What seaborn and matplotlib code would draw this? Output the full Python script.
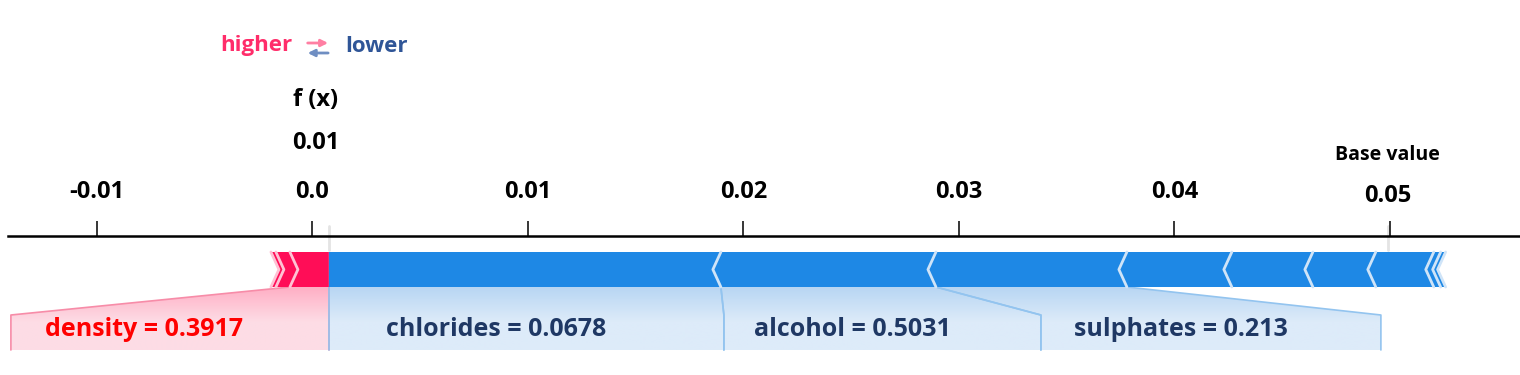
import numpy as np
import matplotlib
matplotlib.use('Agg')
import matplotlib.pyplot as plt
from matplotlib.patches import Polygon
from matplotlib.colors import to_rgba
import seaborn as sns

# force plot values
base_value = 0.0499
fx_text = '0.01'
base_text = '0.05'

red_features = ['density', '', '']
red_values = ['0.3917', '', '']
red_shap = [0.00181, 0.00065, 0.00023]

blue_features = ['chlorides', 'alcohol', 'sulphates', '', '', '', '', '', '']
blue_values = ['0.0678', '0.5031', '0.213', '', '', '', '', '', '']
blue_shap = [0.01819, 0.00998, 0.00886, 0.00487, 0.00376, 0.00292, 0.00269, 0.00032, 0.00023]

tick_values = [-0.01, 0.0, 0.01, 0.02, 0.03, 0.04, 0.05]
tick_labels = ['-0.01', '0.0', '0.01', '0.02', '0.03', '0.04', '']

# layout (y in pixel rows, x in data units)
W, H = 1520, 375
X_MIN, X_MAX = -0.014121, 0.056042
PX = (X_MAX - X_MIN) / (W - 8)          # data units per pixel
AXIS_Y, BAR_TOP, BAR_BOT, BOX_TOP, BOX_BOT = 236, 252, 287, 315, 350
BAR_MID = (BAR_TOP + BAR_BOT) / 2
TIP = 8 * PX
red_box_w = [318 * PX]
blue_box_w = [395 * PX, 317 * PX, 340 * PX]

RED, BLUE = '#FF0D57', '#1E88E5'

sns.set_theme(style='white')
plt.rcParams['font.family'] = ['Open Sans', 'DejaVu Sans']
plt.rcParams['text.color'] = 'black'
plt.rcParams['xtick.color'] = 'black'

fig = plt.figure(figsize=(W / 100, H / 100), dpi=100)
ax = fig.add_axes([8 / W, 0, 1 - 8 / W, 1])


def gradient_box(ax, pts, top_col, low_col):
    poly = Polygon(pts, closed=True, facecolor='none', edgecolor='none', transform=ax.transData)
    ax.add_patch(poly)
    n = 64
    t = np.clip(np.linspace(0, 1, n) / 0.55, 0, 1)[:, None]
    c0, c1 = np.array(to_rgba(top_col)), np.array(to_rgba(low_col))
    img = (c0 * (1 - t) + c1 * t)[:, None, :]
    xs = [p[0] for p in pts]
    im = ax.imshow(img, extent=[min(xs), max(xs), BOX_BOT, BAR_BOT], origin='upper',
                   aspect='auto', interpolation='bilinear', zorder=1)
    im.set_clip_path(poly)


fx = base_value + sum(red_shap) - sum(blue_shap)

# faint markers for f(x) and base value
for xv in [fx, base_value]:
    ax.plot([xv, xv], [226, 250], color='#E4E4E4', lw=2, zorder=0)

# red segments, pointing right, stacked leftwards from f(x)
cur = fx
red_bounds = []
for s in red_shap:
    a, b = cur - s, cur
    tr = 0 if b == fx else TIP
    pts = [(a, BAR_TOP), (b, BAR_TOP), (b + tr, BAR_MID), (b, BAR_BOT), (a, BAR_BOT), (a + TIP, BAR_MID)]
    ax.add_patch(Polygon(pts, closed=True, facecolor=RED, edgecolor='none', zorder=3))
    ax.plot([a, a + TIP, a], [BAR_TOP, BAR_MID, BAR_BOT], color='#FFC2D4', lw=2, zorder=4)
    red_bounds.append((a, b))
    cur = a

# blue segments, pointing left, stacked rightwards from f(x)
cur = fx
blue_bounds = []
for s in blue_shap:
    a, b = cur, cur + s
    tl = 0 if a == fx else TIP
    pts = [(a, BAR_TOP), (b, BAR_TOP), (b - TIP, BAR_MID), (b, BAR_BOT), (a, BAR_BOT), (a - tl, BAR_MID)]
    ax.add_patch(Polygon(pts, closed=True, facecolor=BLUE, edgecolor='none', zorder=3))
    ax.plot([b, b - TIP, b], [BAR_TOP, BAR_MID, BAR_BOT], color='#CFE4F8', lw=2, zorder=4)
    blue_bounds.append((a, b))
    cur = b

# label boxes
right = fx
for (a, b), name, val, w in zip(red_bounds, red_features, red_values, red_box_w):
    left = right - w
    pts = [(a, BAR_BOT), (b, BAR_BOT), (right, BOX_TOP), (right, BOX_BOT), (left, BOX_BOT), (left, BOX_TOP)]
    gradient_box(ax, pts, '#FFAFC5', '#FDDCE5')
    ax.plot([a, left, left], [BAR_BOT, BOX_TOP, BOX_BOT], color='#F78CA8', lw=1.2, zorder=2)
    ax.plot([b, right, right], [BAR_BOT, BOX_TOP, BOX_BOT], color='#F78CA8', lw=1.2, zorder=2)
    ax.text((left + right) / 2 - 26 * PX, 330, f'{name} = {val}', color='#FF0000',
            fontsize=18, fontweight='bold', ha='center', va='center', zorder=5)
    right = left

left = fx
for (a, b), name, val, w in zip(blue_bounds, blue_features, blue_values, blue_box_w):
    right = left + w
    pts = [(a, BAR_BOT), (b, BAR_BOT), (right, BOX_TOP), (right, BOX_BOT), (left, BOX_BOT), (left, BOX_TOP)]
    gradient_box(ax, pts, '#B8D6F3', '#DDEBF9')
    ax.plot([a, left, left], [BAR_BOT, BOX_TOP, BOX_BOT], color='#93C4EF', lw=1.2, zorder=2)
    ax.plot([b, right, right], [BAR_BOT, BOX_TOP, BOX_BOT], color='#93C4EF', lw=1.2, zorder=2)
    ax.text((left + right) / 2 - 30 * PX, 330, f'{name} = {val}', color='#1F3864',
            fontsize=18, fontweight='bold', ha='center', va='center', zorder=5)
    left = right

# axis on top of the bar
ax.set_xlim(X_MIN, X_MAX)
ax.set_ylim(H, 0)
for side in ['left', 'right', 'bottom']:
    ax.spines[side].set_visible(False)
ax.spines['top'].set_position(('data', AXIS_Y))
ax.spines['top'].set_color('black')
ax.spines['top'].set_linewidth(1.8)
ax.xaxis.tick_top()
ax.set_xticks(tick_values)
ax.set_xticklabels(tick_labels)
ax.tick_params(axis='x', direction='out', length=11, width=1.1, color='black',
               pad=12, labelsize=17, labelcolor='black')
for lab in ax.get_xticklabels():
    lab.set_fontweight('bold')
ax.set_yticks([])
ax.grid(False)

# base value and f(x) annotations
ax.text(base_value, 155, 'Base value', fontsize=14, fontweight='bold', ha='center', va='center')
ax.text(base_value, 196, base_text, fontsize=17, fontweight='bold', ha='center', va='center')
ax.text(fx - 13 * PX, 100, 'f (x)', fontsize=17, fontweight='bold', ha='center', va='center')
ax.text(fx - 13 * PX, 143, fx_text, fontsize=17, fontweight='bold', ha='center', va='center')

# higher / lower legend
ax.text(fx - 37 * PX, 46, 'higher', color='#FF2D6A', fontsize=16, fontweight='bold', ha='right', va='center')
ax.text(fx + 16 * PX, 46, 'lower', color='#2F5597', fontsize=16, fontweight='bold', ha='left', va='center')
ax.annotate('', xy=(fx + 2 * PX, 43), xytext=(fx - 24 * PX, 43),
            arrowprops=dict(arrowstyle='-|>', color='#FF7FA3', lw=2, mutation_scale=10))
ax.annotate('', xy=(fx - 24 * PX, 53), xytext=(fx + 2 * PX, 53),
            arrowprops=dict(arrowstyle='-|>', color='#6F8EC2', lw=2, mutation_scale=10))

fig.savefig('out.png', dpi=100)
